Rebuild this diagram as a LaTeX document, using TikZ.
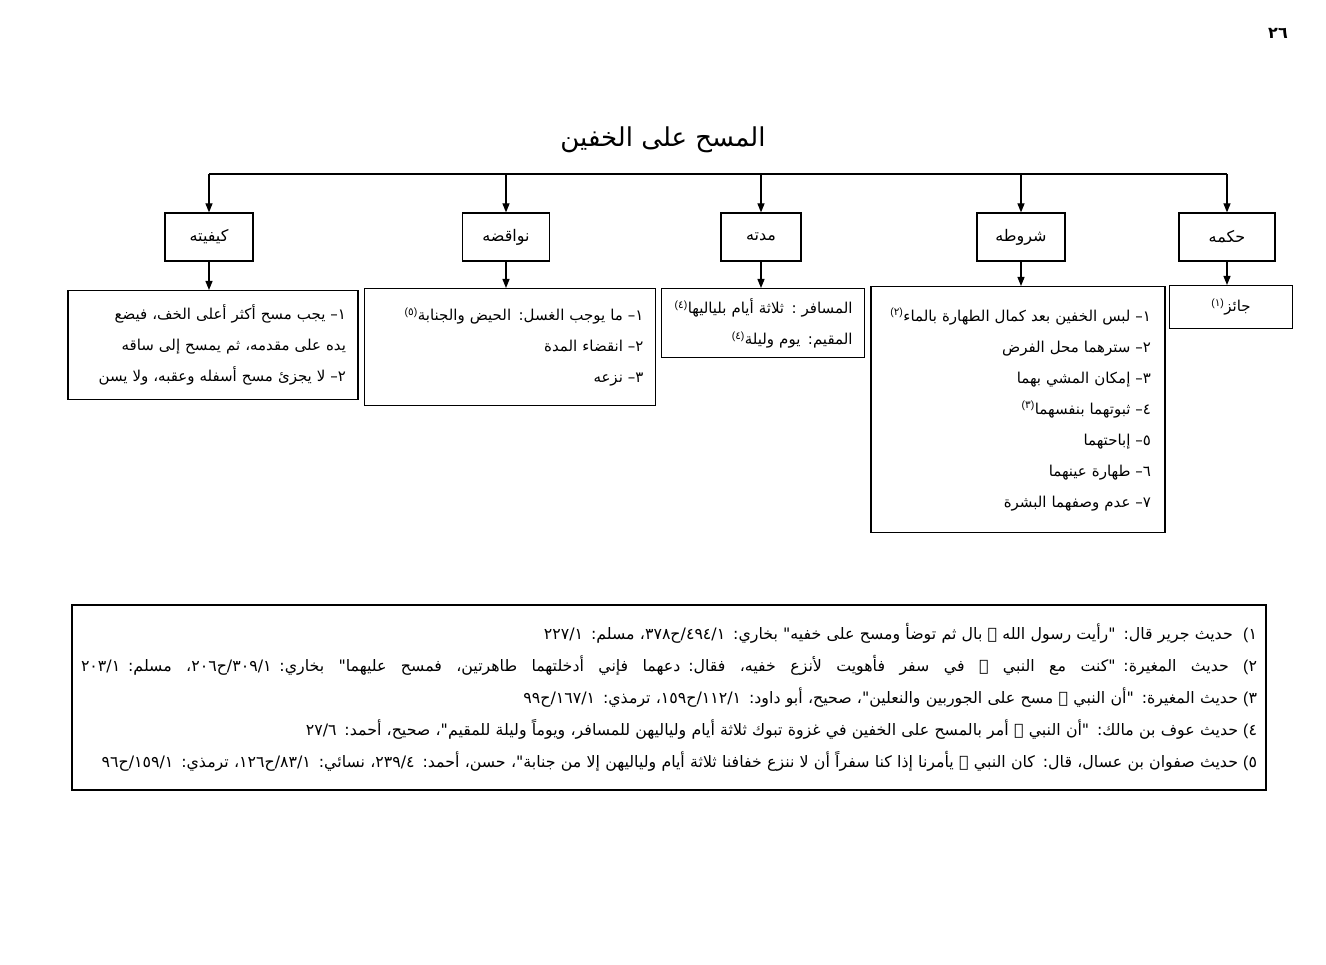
\documentclass[tikz,border=0pt]{standalone}
\usepackage{fontspec}
\setmainfont{Liberation Sans}
\newfontfamily\arfont[Script=Arabic]{DejaVu Sans}
\TeXXeTstate=1
\usetikzlibrary{arrows.meta,positioning}
\newcommand\rtl[1]{\beginR #1\endR}
\newcommand\nm[1]{\hbox{#1}}
\newcommand\fn[1]{\textsuperscript{\beginL{\rmfamily(}\nm{#1}{\rmfamily)}\endL}}
\newcommand\fnum[1]{\nm{#1}{\rmfamily(}}

\begin{document}
\begin{tikzpicture}[
    x=1pt, y=-1pt,
    topbox/.style={draw, line width=1.2pt, minimum height=48pt, inner sep=0pt,
      font=\arfont\fontsize{16}{18}\selectfont},
    listbox/.style={draw, line width=1.2pt, anchor=north, align=right, inner xsep=12pt,
      font=\arfont\fontsize{15}{31}\selectfont},
    arr/.style={-{Triangle[length=9pt,width=7pt]}, line width=1.2pt}
  ]
  \useasboundingbox (0,0) rectangle (1326,965);
  % page number and title
  \node[font=\arfont\bfseries\fontsize{16}{18}\selectfont] (page) at (1278,33) {٢٦};
  \node[font=\arfont\fontsize{26}{30}\selectfont] (title) at (663,140) {\rtl{المسح على الخفين}};
  \coordinate (bus) at (663,174);
  % headings
  \node[topbox, minimum width=96pt] (hukm) at (1227,237) {\rtl{حكمه}};
  \node[topbox, minimum width=88pt] (shurut) at (1021,237) {\rtl{شروطه}};
  \node[topbox, minimum width=80pt] (mudda) at (761,237) {\rtl{مدته}};
  \node[topbox, minimum width=87pt] (nawaqid) at (506,237) {\rtl{نواقضه}};
  \node[topbox, minimum width=88pt] (kayfiyya) at (209,237) {\rtl{كيفيته}};
  % contents
  \node[listbox, align=center, text width=99pt, minimum height=43pt] (jaiz) at (1231,285)
    {\rtl{جائز\fn{١}}};
  \node[listbox, text width=266pt, minimum height=246pt, inner xsep=14pt] (shurutlist) at (1018,286)
    {\rtl{\nm{١}– لبس الخفين بعد كمال الطهارة بالماء\fn{٢}}\\
     \rtl{\nm{٢}– سترهما محل الفرض}\\
     \rtl{\nm{٣}– إمكان المشي بهما}\\
     \rtl{\nm{٤}– ثبوتهما بنفسهما\fn{٣}}\\
     \rtl{\nm{٥}– إباحتهما}\\
     \rtl{\nm{٦}– طهارة عينهما}\\
     \rtl{\nm{٧}– عدم وصفهما البشرة}};
  \node[listbox, text width=179pt, minimum height=69pt] (muddalist) at (763,288)
    {\rtl{المسافر : ثلاثة أيام بلياليها\fn{٤}}\\
     \rtl{المقيم: يوم وليلة\fn{٤}}};
  \node[listbox, text width=267pt, minimum height=117pt] (nawaqidlist) at (510,288)
    {\rtl{\nm{١}– ما يوجب الغسل: الحيض والجنابة\fn{٥}}\\
     \rtl{\nm{٢}– انقضاء المدة}\\
     \rtl{\nm{٣}– نزعه}};
  \node[listbox, text width=266pt, minimum height=109pt] (kayfiyyalist) at (213,290)
    {\rtl{\nm{١}– يجب مسح أكثر أعلى الخف، فيضع}\\
     \rtl{يده على مقدمه، ثم يمسح إلى ساقه}\\
     \rtl{\nm{٢}– لا يجزئ مسح أسفله وعقبه، ولا يسن}};
  % connectors
  \draw[line width=1.2pt] (kayfiyya.north |- bus) -- (hukm.north |- bus);
  \foreach \b in {hukm, shurut, mudda, nawaqid, kayfiyya}
    \draw[arr] (\b.north |- bus) -- (\b.north);
  \draw[arr] (hukm.south) -- (hukm.south |- jaiz.north);
  \draw[arr] (shurut.south) -- (shurut.south |- shurutlist.north);
  \draw[arr] (mudda.south) -- (mudda.south |- muddalist.north);
  \draw[arr] (nawaqid.south) -- (nawaqid.south |- nawaqidlist.north);
  \draw[arr] (kayfiyya.south) -- (kayfiyya.south |- kayfiyyalist.north);
  % footnotes
  \node[draw, line width=2pt, anchor=north, align=right, text width=1176pt, inner xsep=9pt,
    minimum height=185pt, font=\arfont\fontsize{15.8}{32}\selectfont] (notes) at (669,604)
    {\rtl{\fnum{١}\ \ حديث جرير قال: "رأيت رسول الله ﷺ بال ثم توضأ ومسح على خفيه" بخاري: \nm{١}/\nm{٤٩٤}/ح\nm{٣٧٨}، مسلم: \nm{١}/\nm{٢٢٧}}\\
     \leavevmode\hbox to \linewidth{\spaceskip=0.3em plus 2em\rtl{\fnum{٢} حديث المغيرة: "كنت مع النبي ﷺ في سفر فأهويت لأنزع خفيه، فقال: دعهما فإني أدخلتهما طاهرتين، فمسح عليهما" بخاري: \nm{١}/\nm{٣٠٩}/ح\nm{٢٠٦}، مسلم: \nm{١}/\nm{٢٠٣}}}\\
     \rtl{\fnum{٣} حديث المغيرة: "أن النبي ﷺ مسح على الجوربين والنعلين"، صحيح، أبو داود: \nm{١}/\nm{١١٢}/ح\nm{١٥٩}، ترمذي: \nm{١}/\nm{١٦٧}/ح\nm{٩٩}}\\
     \rtl{\fnum{٤} حديث عوف بن مالك: "أن النبي ﷺ أمر بالمسح على الخفين في غزوة تبوك ثلاثة أيام ولياليهن للمسافر، ويوماً وليلة للمقيم"، صحيح، أحمد: \nm{٦}/\nm{٢٧}}\\
     \rtl{\fnum{٥} حديث صفوان بن عسال، قال: كان النبي ﷺ يأمرنا إذا كنا سفراً أن لا ننزع خفافنا ثلاثة أيام ولياليهن إلا من جنابة"، حسن، أحمد: \nm{٤}/\nm{٢٣٩}، نسائي: \nm{١}/\nm{٨٣}/ح\nm{١٢٦}، ترمذي: \nm{١}/\nm{١٥٩}/ح\nm{٩٦}}};
\end{tikzpicture}
\end{document}
